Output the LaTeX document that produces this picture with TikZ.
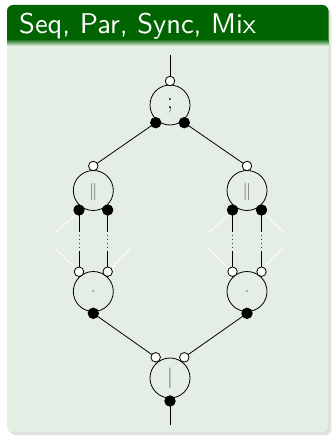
\documentclass[tikz,border=0pt]{standalone}
\usepackage{fontspec}
\newfontfamily\titlesf[Extension=.otf]{lmsans10-regular}
\definecolor{titlecol}{RGB}{0,100,0}
\definecolor{bodycol}{RGB}{228,238,228}
\tikzset{
  bigc/.style={circle,draw=black,line width=0.8pt,minimum size=40pt,inner sep=0pt},
  wdot/.style={circle,draw=black,fill=white,line width=0.8pt,minimum size=9.5pt,inner sep=0pt},
  bdot/.style={circle,draw=black,fill=black,line width=0.8pt,minimum size=10.5pt,inner sep=0pt},
  conn/.style={draw=black,line width=0.8pt},
  dotsl/.style={draw=black!75,line width=0.7pt,dash pattern=on 1.3pt off 2.9pt},
  wline/.style={draw=white,line width=0.8pt},
  sym/.style={inner sep=0pt,text=black!60},
}
\begin{document}
\begin{tikzpicture}[x=1pt,y=-1pt]
\useasboundingbox (0,0) rectangle (332,436);
% block shadow
\fill[black!8,rounded corners=6pt] (10,9) rectangle (331.5,435.5);
\fill[black!14,rounded corners=6pt] (8.5,7) rectangle (330,434);
% body
\fill[bodycol,rounded corners=6pt] (7,5) rectangle (328.5,432.5);
% title bar
\fill[titlecol] {[rounded corners=6pt] (7,41) -- (7,5) -- (328.5,5)} -- (328.5,41) -- cycle;
\shade[top color=titlecol!70!bodycol,bottom color=bodycol] (7,41) rectangle (328.5,46);
\node[anchor=base west,text=white,inner sep=0pt,font=\titlesf\fontsize{28.5}{32}\selectfont] (title) at (19,33.3) {Seq, Par, Sync, Mix};

% white lines
\draw[wline] (75,215) -- (55,233);
\draw[wline] (55,248) -- (75,268);
\draw[wline] (112,268) -- (130,248);
\draw[wline] (230,213) -- (208,233);
\draw[wline] (263,213) -- (285,233);
\draw[wline] (208,248) -- (228,268);
\draw[wline] (263,268) -- (283,248);

% top node
\node[bigc] (T) at (170,105) {};
\node[sym,text=black,font=\fontsize{23}{25}\selectfont] (Ts) at (170,106) {;};
\coordinate (top) at (170,55);
% left par
\node[bigc] (L) at (93.3,190.5) {};
\node[sym,font=\fontsize{19}{21}\selectfont] (Ls) at (93.3,192.5) {$\parallel$};
% right par
\node[bigc] (R) at (247,190.5) {};
\node[sym,font=\fontsize{19}{21}\selectfont] (Rs) at (247,192.5) {$\parallel$};
% left sync
\node[bigc] (L2) at (93.3,291.5) {};
\node[sym,text=black,font=\fontsize{12}{14}\selectfont] (L2s) at (93.3,291.5) {$\cdot$};
% right sync
\node[bigc] (R2) at (247,291.5) {};
\node[sym,text=black,font=\fontsize{12}{14}\selectfont] (R2s) at (247,291.5) {$\cdot$};
% bottom mix
\node[bigc] (B) at (170,378) {};
\node[sym,font=\fontsize{21}{23}\selectfont] (Bs) at (170,378) {$|$};
\coordinate (bot) at (170,425);

% dotted-middle coordinates
\coordinate (La1) at (79,232);   \coordinate (La2) at (79,234.5);  \coordinate (La3) at (79,247.5);  \coordinate (La4) at (79,251);
\coordinate (Lb1) at (107.7,232); \coordinate (Lb2) at (107.7,234.5); \coordinate (Lb3) at (107.7,247.5); \coordinate (Lb4) at (107.7,251);
\coordinate (Ra1) at (232.5,232); \coordinate (Ra2) at (232.5,234.5); \coordinate (Ra3) at (232.5,247.5); \coordinate (Ra4) at (232.5,251);
\coordinate (Rb1) at (261.5,232); \coordinate (Rb2) at (261.5,234.5); \coordinate (Rb3) at (261.5,247.5); \coordinate (Rb4) at (261.5,251);

% connectors (drawn before dots)
\path[conn] (top) -- (170,81);
\path[conn] (170,401) -- (bot);
\path[conn] (155.7,122.7) -- (93.3,166);
\path[conn] (184.3,122.7) -- (247,166);
\path[conn] (93.3,313.3) -- (155.7,357.3);
\path[conn] (247,313.3) -- (184.3,357.3);
\path[conn] (79,210) -- (La1);   \path[dotsl] (La2) -- (La3);  \path[conn] (La4) -- (79,271.7);
\path[conn] (107.7,210) -- (Lb1); \path[dotsl] (Lb2) -- (Lb3); \path[conn] (Lb4) -- (107.7,271.7);
\path[conn] (232.5,210) -- (Ra1); \path[dotsl] (Ra2) -- (Ra3); \path[conn] (Ra4) -- (232.5,271.7);
\path[conn] (261.5,210) -- (Rb1); \path[dotsl] (Rb2) -- (Rb3); \path[conn] (Rb4) -- (261.5,271.7);

% ports
\node[wdot] (Tin) at (170,81) {};
\node[bdot] (Tl) at (155.7,122.7) {};
\node[bdot] (Tr) at (184.3,122.7) {};
\node[wdot] (Lin) at (93.3,166) {};
\node[bdot] (Ll) at (79,210) {};
\node[bdot] (Lr) at (107.7,210) {};
\node[wdot] (Rin) at (247,166) {};
\node[bdot] (Rl) at (232.5,210) {};
\node[bdot] (Rr) at (261.5,210) {};
\node[wdot] (L2a) at (79,271.7) {};
\node[wdot] (L2b) at (107.7,271.7) {};
\node[bdot] (L2o) at (93.3,313.3) {};
\node[wdot] (R2a) at (232.5,271.7) {};
\node[wdot] (R2b) at (261.5,271.7) {};
\node[bdot] (R2o) at (247,313.3) {};
\node[wdot] (Ba) at (155.7,357.3) {};
\node[wdot] (Bb) at (184.3,357.3) {};
\node[bdot] (Bo) at (170,401) {};
\end{tikzpicture}
\end{document}
